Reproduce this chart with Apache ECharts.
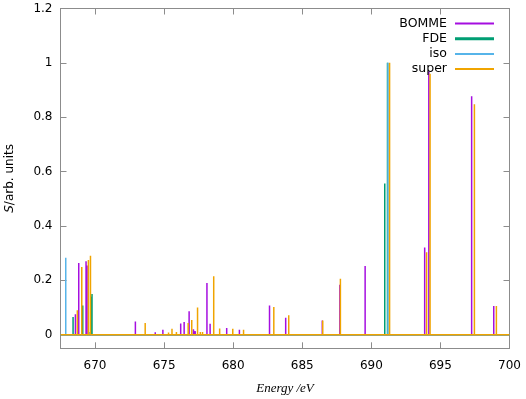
<!DOCTYPE html>
<html>
<head>
<meta charset="utf-8">
<script src="https://cdn.jsdelivr.net/npm/echarts@6/dist/echarts.min.js"></script>
<style>
	html, body { margin: 0; padding: 0; background: #fff; }
	#spec { width: 526px; height: 399px; }
</style>
</head>
<body>
<div id="spec"></div>
<script>
	// peak positions (eV) and intensities
	const bommeE = [668.58, 668.82, 669.35, 669.42, 672.92, 674.36, 674.91, 676.2, 676.45, 676.81, 677.12, 677.25, 678.1, 678.33, 679.53, 680.45, 682.63, 683.8, 686.45, 687.72, 689.55, 693.86, 694.16, 697.26, 698.86]
	const bommeS = [0.075, 0.264, 0.27, 0.255, 0.049, 0.009, 0.018, 0.041, 0.047, 0.086, 0.02, 0.013, 0.19, 0.04, 0.025, 0.018, 0.107, 0.062, 0.052, 0.184, 0.253, 0.321, 0.969, 0.877, 0.106]

	const fdeE = [668.41, 669.11, 669.71, 669.78, 690.97, 691.17]
	const fdeS = [0.065, 0.107, 0.14, 0.15, 0.556, 1.0]

	const isoE = [667.88, 669.6, 691.2]
	const isoS = [0.283, 0.01, 1.0]

	const superE = [668.72, 669.04, 669.52, 669.67, 673.63, 675.32, 675.57, 675.89, 676.74, 677.0, 677.42, 677.62, 677.78, 678.59, 679.02, 679.97, 680.75, 682.94, 684.02, 686.48, 687.76, 691.32, 694.0, 694.25, 697.46, 699.05]
	const superS = [0.09, 0.249, 0.275, 0.29, 0.043, 0.008, 0.022, 0.01, 0.043, 0.054, 0.1, 0.01, 0.01, 0.215, 0.023, 0.022, 0.018, 0.102, 0.072, 0.052, 0.206, 1.0, 0.303, 0.96, 0.848, 0.106]

	const xTicks = [670, 675, 680, 685, 690, 695, 700]
	const yTicks = [0, 0.2, 0.4, 0.6, 0.8, 1, 1.2]

	const xMin = 667.5, xMax = 700

	// stick spectrum: baseline with a vertical spike per peak
	function spikes(E, S) {
		let d = [[xMin, 0]]
		for (let i = 0; i < E.length; i++) {
			d.push([E[i], 0], [E[i], S[i]], [E[i], 0])
		}
		d.push([xMax, 0])
		return d
	}

	const frame = '#8c8c8c'
	const font = 'DejaVu Sans'

	function xAx(pos, labels) {
		return {
			type: 'value', position: pos, min: xMin, max: xMax,
			axisLine: { show: true, onZero: false, lineStyle: { color: frame, width: 1 } },
			axisTick: { show: true, inside: true, length: 6, customValues: xTicks, lineStyle: { color: frame } },
			axisLabel: { show: labels, customValues: xTicks, color: '#000', fontFamily: font, fontSize: 12, margin: 12 },
			splitLine: { show: false }
		}
	}
	function yAx(pos, labels) {
		return {
			type: 'value', position: pos, min: -0.05, max: 1.2,
			axisLine: { show: true, onZero: false, lineStyle: { color: frame, width: 1 } },
			axisTick: { show: true, inside: true, length: 6, customValues: yTicks, lineStyle: { color: frame } },
			axisLabel: { show: labels, customValues: yTicks, color: '#000', fontFamily: font, fontSize: 12, margin: 8 },
			splitLine: { show: false }
		}
	}

	let xBottom = xAx('bottom', true)
	xBottom.name = 'Energy /eV'
	xBottom.nameLocation = 'middle'
	xBottom.nameGap = 34
	xBottom.nameTextStyle = { fontFamily: 'Liberation Serif', fontStyle: 'italic', fontSize: 13, color: '#000' }

	let yLeft = yAx('left', true)
	yLeft.name = '{i|S}/arb. units'
	yLeft.nameLocation = 'middle'
	yLeft.nameGap = 45
	yLeft.nameTextStyle = { fontFamily: font, fontSize: 12, color: '#000', rich: { i: { fontFamily: font, fontSize: 12, fontStyle: 'italic', color: '#000' } } }

	function line(name, E, S, color, w) {
		return {
			name: name, type: 'line', xAxisIndex: 0, yAxisIndex: 0,
			data: spikes(E, S), symbol: 'none', showSymbol: false,
			lineStyle: { color: color, width: w }, itemStyle: { color: color },
			z: 2
		}
	}

	// legend samples: plain horizontal bars, FDE drawn thicker
	const thinIcon = 'path://M0,0 L39,0 L39,2 L0,2 Z'
	const thickIcon = 'path://M0,0 L39,0 L39,3 L0,3 Z'

	let chart = echarts.init(document.getElementById('spec'))
	chart.setOption({
		animation: false,
		grid: { left: 60.5, right: 16.5, top: 8.5, bottom: 50.7, containLabel: false, outerBoundsMode: 'none' },
		legend: {
			orient: 'vertical', right: 32, top: 17, align: 'right', padding: 0,
			itemWidth: 39, itemHeight: 3, itemGap: 2.2,
			icon: thinIcon,
			textStyle: { fontFamily: font, fontSize: 12.5, color: '#000', padding: [0, 3, 0, 0] },
			data: [
				{ name: 'BOMME' },
				{ name: 'FDE', icon: thickIcon },
				{ name: 'iso' },
				{ name: 'super' }
			]
		},
		xAxis: [xBottom, xAx('top', false)],
		yAxis: [yLeft, yAx('right', false)],
		series: [
			line('BOMME', bommeE, bommeS, '#a50ee0', 1.5),
			line('FDE', fdeE, fdeS, '#009e73', 1.5),
			line('iso', isoE, isoS, '#56b4e9', 1.5),
			line('super', superE, superS, '#f0a400', 1.5)
		]
	})
</script>
</body>
</html>
